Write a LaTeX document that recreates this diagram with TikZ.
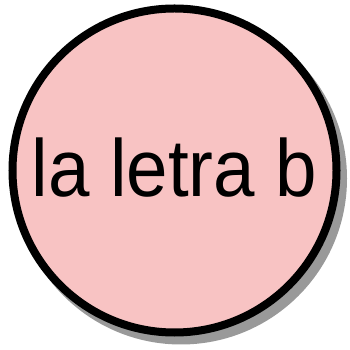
\documentclass[tikz,border=0pt]{standalone}
\usepackage{fontspec}
\setmainfont{Liberation Sans}[FakeStretch=0.92]
\usepackage{tikz}
\definecolor{bubblepink}{HTML}{F8C3C3}
\definecolor{shadowgray}{HTML}{999999}

\begin{document}
\begin{tikzpicture}[x=1pt, y=1pt]
\useasboundingbox (0,0) rectangle (349,350);

% ---- Circle with drop shadow ----
\coordinate (mid) at (173, 179.5);
\fill[shadowgray] ([shift={(8,-8)}]mid) circle (166);

\node[circle, draw=black, line width=8pt, fill=bubblepink, minimum size=324pt,
      inner sep=0pt, text depth=7pt, font=\fontsize{81}{90}\selectfont] (letra) at ([xshift=1.5]mid) {la letra b};

\end{tikzpicture}
\end{document}
